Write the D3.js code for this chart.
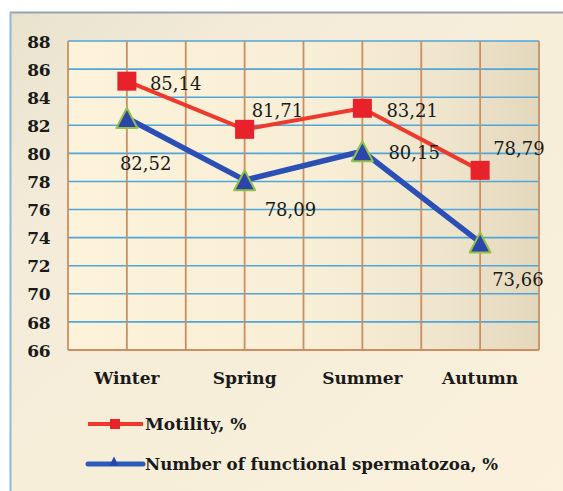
<!DOCTYPE html>
<html><head><meta charset="utf-8">
<script src="https://cdn.jsdelivr.net/npm/d3@7"></script>
<style>html,body{margin:0;padding:0;background:#fff;}svg{display:block;}</style>
</head><body>
<svg id="c" width="563" height="491"></svg>
<script>
const categories = ["Winter", "Spring", "Summer", "Autumn"];
const motility = [85.14, 81.71, 83.21, 78.79];
const functional = [82.52, 78.09, 80.15, 73.66];
const yTicks = [66, 68, 70, 72, 74, 76, 78, 80, 82, 84, 86, 88];
const motilityLabels = ["85,14", "81,71", "83,21", "78,79"];
const functionalLabels = ["82,52", "78,09", "80,15", "73,66"];
const legendNames = ["Motility, %", "Number of functional spermatozoa, %"];

// label placement offsets (style, not data)
const motOff = [[23, 9], [7, -12], [24, 9], [13, -15]];
const funOff = [[-7, 52], [20, 36], [26, 8], [12, 44]];

const svg = d3.select("#c");
const defs = svg.append("defs");
const bgG = defs.append("linearGradient").attr("id", "bg").attr("x1", 0).attr("y1", 0).attr("x2", 1).attr("y2", 1);
bgG.append("stop").attr("offset", 0).attr("stop-color", "#e9e2cd");
bgG.append("stop").attr("offset", 0.25).attr("stop-color", "#f4ecd8");
bgG.append("stop").attr("offset", 1).attr("stop-color", "#fbf1dc");
const plG = defs.append("linearGradient").attr("id", "pl").attr("x1", 0).attr("y1", 0).attr("x2", 1).attr("y2", 0);
plG.append("stop").attr("offset", 0).attr("stop-color", "#fdf2da");
plG.append("stop").attr("offset", 0.55).attr("stop-color", "#f8eed6");
plG.append("stop").attr("offset", 0.8).attr("stop-color", "#efe5cd");
plG.append("stop").attr("offset", 1).attr("stop-color", "#e3d8bc");

// outer frame
svg.append("rect").attr("x", 10).attr("y", 12).attr("width", 560).attr("height", 490).attr("fill", "url(#bg)");
svg.append("line").attr("x1", 10).attr("x2", 563).attr("y1", 12.5).attr("y2", 12.5).attr("stroke", "#9aa3ad").attr("stroke-width", 2);
svg.append("line").attr("x1", 10.5).attr("x2", 10.5).attr("y1", 12).attr("y2", 491).attr("stroke", "#8fb9d8").attr("stroke-width", 2);

const L = 68, R = 539, T = 41, B = 350;
const x = d3.scaleBand().domain(categories).range([L, R]);
const y = d3.scaleLinear().domain([66, 88]).range([B, T]);
const cx = c => x(c) + x.bandwidth() / 2;

svg.append("rect").attr("x", L).attr("y", T).attr("width", R - L).attr("height", B - T).attr("fill", "url(#pl)");

// horizontal grid
svg.append("g").selectAll("line").data(yTicks.filter(t => t > 66)).join("line")
  .attr("x1", L).attr("x2", R).attr("y1", d => y(d)).attr("y2", d => y(d))
  .attr("stroke", "#4ea6da").attr("stroke-width", 1.6);

// vertical grid: band edges and centers
const vx = [];
categories.forEach(c => { vx.push(x(c)); vx.push(cx(c)); });
vx.push(R);
svg.append("g").selectAll("line").data(vx).join("line")
  .attr("x1", d => d).attr("x2", d => d).attr("y1", T).attr("y2", B)
  .attr("stroke", "#c98f62").attr("stroke-width", 1.8);
svg.append("line").attr("x1", L).attr("x2", R).attr("y1", B).attr("y2", B).attr("stroke", "#c98f62").attr("stroke-width", 2);

// y axis labels
const fontF = "'DejaVu Serif', serif";
const yAxis = d3.axisLeft(y).tickValues(yTicks).tickSize(0).tickPadding(0).tickFormat(d3.format("d"));
const ya = svg.append("g").attr("transform", "translate(50,0)").call(yAxis);
ya.select(".domain").remove();
ya.selectAll("text").attr("font-family", fontF).attr("font-size", 17).attr("font-weight", "bold").attr("fill", "#1a1a1a").attr("dy", "0.36em").attr("letter-spacing", -0.5);

// x axis labels
const xAxis = d3.axisBottom(x).tickSize(0).tickPadding(0);
const xa = svg.append("g").attr("transform", `translate(0,${B + 28})`).call(xAxis);
xa.select(".domain").remove();
xa.selectAll("text").attr("font-family", fontF).attr("font-size", 17).attr("font-weight", "bold").attr("fill", "#1a1a1a").attr("dy", "0.36em");

const line = d3.line().x((d, i) => cx(categories[i])).y(d => y(d));

// functional line
svg.append("path").datum(functional).attr("d", line).attr("fill", "none").attr("stroke", "#2b4fb5").attr("stroke-width", 5.5).attr("stroke-linejoin", "round");
// motility line
svg.append("path").datum(motility).attr("d", line).attr("fill", "none").attr("stroke", "#ee3a2c").attr("stroke-width", 4).attr("stroke-linejoin", "round");

const tri = (px, py, w, h) => `M${px},${py - h / 2}L${px + w / 2},${py + h / 2}L${px - w / 2},${py + h / 2}Z`;

svg.append("g").selectAll("path").data(functional).join("path")
  .attr("d", (d, i) => tri(cx(categories[i]), y(d), 21, 20))
  .attr("fill", "#2b45ab").attr("stroke", "#93c247").attr("stroke-width", 2).attr("stroke-linejoin", "round");

svg.append("g").selectAll("rect").data(motility).join("rect")
  .attr("x", (d, i) => cx(categories[i]) - 9.5).attr("y", d => y(d) - 9.5)
  .attr("width", 19).attr("height", 19).attr("fill", "#e8222a");

// data labels
const lblStyle = sel => sel.attr("font-family", fontF).attr("font-size", 18).attr("fill", "#1a1a1a");
svg.append("g").selectAll("text").data(motility).join("text")
  .attr("x", (d, i) => cx(categories[i]) + motOff[i][0]).attr("y", (d, i) => y(d) + motOff[i][1])
  .text((d, i) => motilityLabels[i]).call(lblStyle);
svg.append("g").selectAll("text").data(functional).join("text")
  .attr("x", (d, i) => cx(categories[i]) + funOff[i][0]).attr("y", (d, i) => y(d) + funOff[i][1])
  .text((d, i) => functionalLabels[i]).call(lblStyle);

// legend
const lg = svg.append("g");
lg.append("line").attr("x1", 88).attr("x2", 143).attr("y1", 424).attr("y2", 424).attr("stroke", "#ee3a2c").attr("stroke-width", 4);
lg.append("rect").attr("x", 110).attr("y", 419).attr("width", 10).attr("height", 10).attr("fill", "#e8222a");
lg.append("line").attr("x1", 88).attr("x2", 143).attr("y1", 464).attr("y2", 464).attr("stroke", "#2b5cb5").attr("stroke-width", 5).attr("stroke-linecap", "round");
lg.append("path").attr("d", tri(114, 461, 9, 9)).attr("fill", "#2b45ab");
lg.append("text").attr("x", 145).attr("y", 424).attr("dy", "0.36em").text(legendNames[0])
  .attr("font-family", fontF).attr("font-size", 17).attr("font-weight", "bold").attr("fill", "#1a1a1a");
lg.append("text").attr("x", 145).attr("y", 464).attr("dy", "0.36em").text(legendNames[1])
  .attr("font-family", fontF).attr("font-size", 17).attr("font-weight", "bold").attr("fill", "#1a1a1a").attr("textLength", 353).attr("lengthAdjust", "spacingAndGlyphs");
</script>
</body></html>
